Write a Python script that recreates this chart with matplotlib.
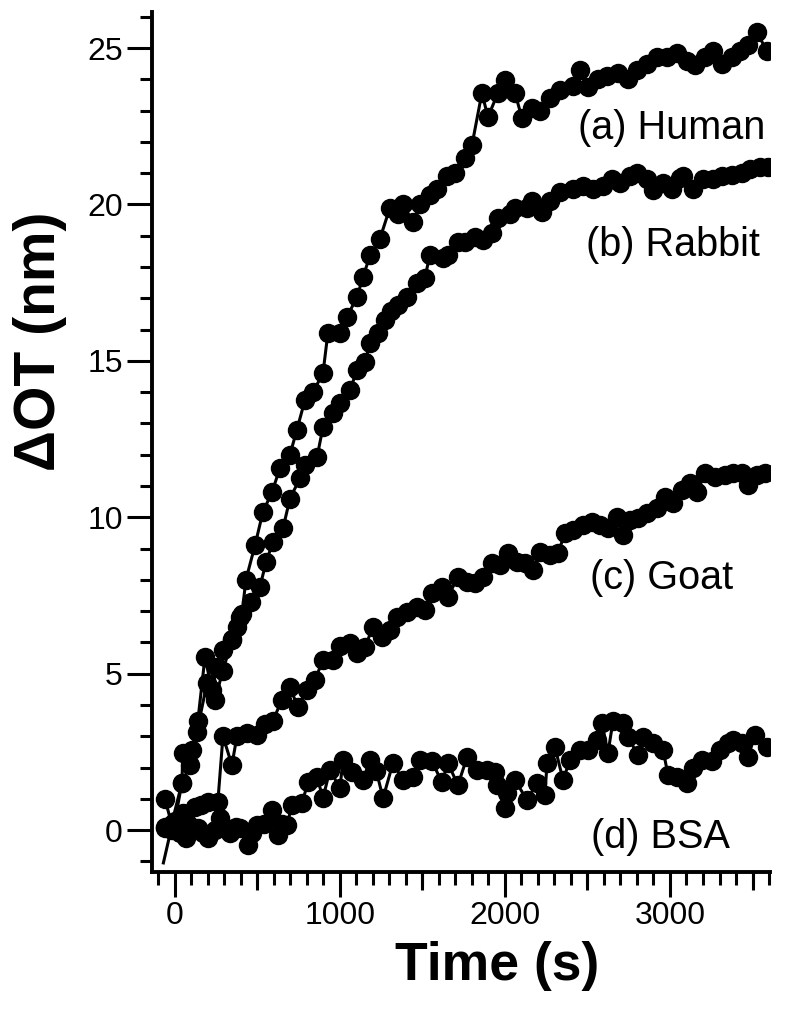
import matplotlib.pyplot as plt
from matplotlib.ticker import MultipleLocator

plt.rcParams['font.family'] = ['Liberation Sans', 'DejaVu Sans']

# Human (a)
human_t = [-61, -20, 42, 48, 103, 139, 182, 224, 254, 291, 345, 376, 406, 430, 485,
           533, 588, 636, 697, 739, 788, 836, 897, 927, 1000, 1042, 1103, 1139, 1182,
           1242, 1303, 1352, 1382, 1442, 1485, 1545, 1588, 1648, 1697, 1758, 1800,
           1860, 1897, 1957, 2000, 2061, 2103, 2164, 2212, 2273, 2333, 2412, 2455,
           2503, 2564, 2618, 2685, 2745, 2800, 2861, 2921, 2982, 3042, 3103, 3152,
           3212, 3261, 3315, 3376, 3424, 3473, 3527, 3588]
human_y = [1.0, 0.2, 1.5, 2.46, 2.56, 3.5, 5.53, 4.48, 5.2, 5.75, 6.1, 6.5, 6.9, 8.0, 9.1,
           10.17, 10.8, 11.57, 12.0, 12.8, 13.75, 14.0, 14.6, 15.9, 15.9, 16.4, 17.04, 17.67, 18.37,
           18.9, 19.9, 19.7, 20.0, 19.45, 20.0, 20.3, 20.5, 20.9, 21.0, 21.5, 21.9,
           23.56, 22.8, 23.56, 23.98, 23.56, 22.76, 23.1, 23.0, 23.4, 23.66, 23.8, 24.3,
           23.75, 24.0, 24.1, 24.2, 24.0, 24.3, 24.5, 24.7, 24.7, 24.84, 24.6, 24.45,
           24.7, 24.9, 24.5, 24.7, 24.9, 25.1, 25.5, 24.9]

# Rabbit (b)
rabbit_t = [-61, 0, 42, 91, 133, 194, 242, 291, 345, 394, 460, 515, 552, 594, 655, 697,
            758, 788, 861, 897, 958, 1000, 1061, 1103, 1152, 1182, 1230, 1270, 1310, 1350,
            1406, 1467, 1515, 1545, 1624, 1654, 1715, 1758, 1818, 1866, 1921, 1957, 2030,
            2061, 2133, 2164, 2224, 2273, 2333, 2412, 2473, 2533, 2594, 2648, 2697, 2758,
            2800, 2861, 2897, 2958, 3012, 3061, 3079, 3139, 3200, 3261, 3315, 3376, 3436,
            3485, 3545, 3594]
rabbit_y = [0.1, 0.3, 1.5, 2.08, 3.13, 4.7, 4.16, 5.1, 6.07, 6.8, 7.3, 7.77, 8.57, 9.2, 9.65, 10.6,
            11.25, 11.67, 11.92, 12.88, 13.33, 13.65, 14.07, 14.7, 14.96, 15.57, 15.9, 16.3, 16.6, 16.8,
            17.04, 17.5, 17.65, 18.4, 18.3, 18.4, 18.8, 18.8, 18.96, 18.86, 19.1, 19.56, 19.7,
            19.9, 19.9, 20.1, 19.75, 20.1, 20.4, 20.5, 20.6, 20.5, 20.6, 20.8, 20.7, 20.9,
            21.0, 20.8, 20.45, 20.7, 20.5, 20.85, 20.9, 20.5, 20.8, 20.8, 20.9, 20.95, 21.0,
            21.15, 21.2, 21.2]

# Goat (c)
goat_t = [-70, -20, 30, 80, 121, 160, 200, 260, 291, 345, 376, 436, 497, 545, 594, 648,
          697, 745, 800, 848, 897, 958, 1000, 1061, 1103, 1152, 1200, 1255, 1303, 1345,
          1406, 1467, 1515, 1557, 1618, 1654, 1715, 1770, 1818, 1866, 1921, 1970, 2018,
          2073, 2121, 2170, 2212, 2273, 2321, 2364, 2412, 2473, 2527, 2576, 2624, 2679,
          2715, 2758, 2806, 2861, 2921, 2970, 3018, 3073, 3121, 3164, 3212, 3273, 3333,
          3382, 3436, 3473, 3527, 3576]
goat_y = [-1.05, 0.1, -0.1, 0.2, 0.74, 0.8, 0.9, 0.9, 3.0, 2.08, 3.0, 3.1, 3.04, 3.4, 3.5, 4.16,
          4.57, 3.93, 4.48, 4.8, 5.43, 5.43, 5.9, 5.97, 5.66, 5.85, 6.5, 6.17, 6.4, 6.8,
          6.97, 7.13, 7.03, 7.57, 7.77, 7.45, 8.1, 7.93, 7.9, 8.1, 8.53, 8.47, 8.85,
          8.57, 8.53, 8.3, 8.9, 8.8, 8.85, 9.5, 9.6, 9.75, 9.85, 9.75, 9.65, 10.0,
          9.43, 9.9, 9.97, 10.13, 10.3, 10.65, 10.45, 10.87, 11.1, 10.8, 11.4, 11.3, 11.35,
          11.4, 11.4, 11.03, 11.35, 11.4]

# BSA (d)
bsa_t = [-61, -20, 20, 48, 70, 100, 139, 170, 200, 240, 273, 300, 333, 370, 394, 442,
         470, 497, 540, 588, 624, 650, 679, 709, 770, 806, 861, 897, 939, 1000, 1018,
         1073, 1139, 1182, 1220, 1261, 1321, 1382, 1442, 1485, 1557, 1618, 1654, 1715,
         1770, 1830, 1890, 1939, 1951, 2000, 2012, 2061, 2133, 2194, 2242, 2255, 2303,
         2352, 2394, 2455, 2503, 2558, 2588, 2624, 2655, 2715, 2745, 2806, 2836, 2897,
         2958, 2988, 3042, 3103, 3139, 3194, 3255, 3303, 3352, 3382, 3436, 3473, 3515, 3588]
bsa_y = [0.06, 0.0, 0.3, 0.54, -0.26, 0.1, 0.06, -0.1, -0.26, 0.0, 0.38, 0.1, -0.1, 0.1, 0.06, -0.48,
         -0.1, 0.16, 0.2, 0.64, -0.16, 0.2, 0.16, 0.8, 0.86, 1.53, 1.7, 1.02, 1.92, 1.34, 2.24,
         1.85, 1.6, 2.24, 1.9, 1.02, 2.14, 1.6, 1.7, 2.24, 2.2, 1.53, 2.14, 1.44,
         2.33, 1.92, 1.92, 1.85, 1.44, 0.7, 1.18, 1.6, 0.96, 1.5, 1.12, 2.14, 2.65,
         1.6, 2.24, 2.56, 2.56, 2.88, 3.42, 2.46, 3.5, 3.42, 2.97, 2.4, 2.97, 2.78,
         2.56, 1.76, 1.7, 1.5, 2.0, 2.24, 2.2, 2.56, 2.78, 2.88, 2.78, 2.33, 3.04, 2.65]

labels = ['(a) Human', '(b) Rabbit', '(c) Goat', '(d) BSA']
label_x = [3576, 3545, 3382, 3364]
label_y = [22.44, 18.7, 8.06, -0.22]

fig = plt.figure(figsize=(8, 10.11), dpi=100)
ax = fig.add_axes([0.19, 0.1375, 0.7725, 0.8505])

style = dict(color='black', linewidth=2.2, marker='o', markersize=13)
ax.plot(human_t, human_y, **style)
ax.plot(rabbit_t, rabbit_y, **style)
ax.plot(goat_t, goat_y, markevery=slice(1, None), **style)
ax.plot(bsa_t, bsa_y, **style)

for txt, x, y in zip(labels, label_x, label_y):
    ax.text(x, y, txt, fontsize=28.5, ha='right', va='center')

ax.set_xlim(-139, 3606)
ax.set_ylim(-1.34, 26.15)
ax.xaxis.set_major_locator(MultipleLocator(1000))
ax.xaxis.set_minor_locator(MultipleLocator(100))
ax.yaxis.set_major_locator(MultipleLocator(5))
ax.yaxis.set_minor_locator(MultipleLocator(1))

for s in ['top', 'right']:
    ax.spines[s].set_visible(False)
for s in ['left', 'bottom']:
    ax.spines[s].set_linewidth(2.8)

ax.tick_params(which='major', direction='out', length=18, width=2.2, labelsize=23, pad=3)
ax.tick_params(which='minor', direction='out', length=9, width=2.2)

# medium ticks at the half thousands
sec = ax.secondary_xaxis('bottom')
sec.set_xticks([500, 1500, 2500, 3500])
sec.set_xticklabels([])
sec.tick_params(length=13, width=2.2, direction='out')
sec.spines['bottom'].set_visible(False)

fig.text(497 / 800, 1 - 966 / 1011, 'Time (s)', fontsize=38.5, fontweight='bold',
         ha='center', va='center')
fig.text(40 / 800, 1 - 341 / 1011, 'ΔOT (nm)', fontsize=41, fontweight='bold',
         ha='center', va='center', rotation=90)

plt.savefig('out.png', dpi=100)
